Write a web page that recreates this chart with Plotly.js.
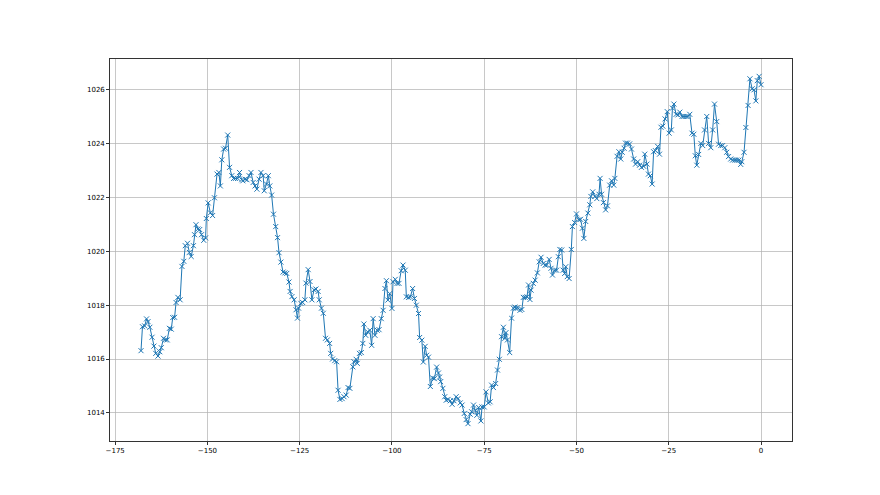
<!DOCTYPE html>
<html>
<head>
<meta charset="utf-8">
<script src="https://cdn.plot.ly/plotly-3.0.1.min.js"></script>
<style>html,body{margin:0;padding:0;background:#fff;}#chart{width:880px;height:495px;}</style>
</head>
<body>
<div id="chart"></div>
<script>
const hours = [
-168.0,-167.6,-167.0,-166.5,-166.1,-165.6,-165.0,-164.5,-164.0,-163.4,
-162.9,-162.5,-161.9,-161.4,-160.9,-160.3,-159.8,-159.4,-158.9,-158.5,
-158.0,-157.4,-156.9,-156.4,-156.0,-155.4,-154.9,-154.4,-153.8,-153.5,
-153.1,-152.6,-152.1,-151.6,-151.0,-150.5,-150.3,-149.8,-149.2,-148.6,
-148.1,
-147.4,-146.9,-146.5,-146.1,-145.6,-145.1,-144.5,-144.0,-143.4,-142.9,-142.4,-141.8,-141.3,-140.7,-140.4,-139.8,-139.3,-138.7,-138.2,-137.6,-137.1,-136.6,-136.0,-135.5,-134.9,-134.6,-134.0,-133.5,-133.1,-132.6,-132.1,-131.5,-131.0,-130.6,-130.1,-129.5,-129.0,-128.5,-127.9,
-127.6,-127.1,-126.5,-126.0,-125.6,-125.3,-124.7,-124.2,-123.6,-123.3,-122.7,-122.2,-121.7,-121.1,-120.6,-120.0,-119.7,-119.1,-118.6,-118.0,-117.5,-116.9,-116.6,-116.1,-115.5,-115.0,-114.6,-114.1,-113.5,-113.0,-112.4,-111.9,-111.4,-110.6,-110.3,-109.7,-109.4,-108.8,-108.3,-107.9,-107.6,
-107.1,-106.6,-106.0,-105.5,-105.1,-104.6,-104.0,-103.5,-102.9,-102.4,-101.9,-101.5,-101.1,-100.6,-100.0,-99.7,-99.1,-98.6,-98.1,-97.5,-97.0,-96.4,-96.1,-95.5,-95.0,-94.4,-93.9,-93.4,-92.8,-92.5,-91.9,-91.5,-91.0,-90.6,-90.1,-89.6,-89.0,-88.5,-87.9,-87.4,-87.1,
-86.8,-86.2,-85.7,-85.3,-84.8,-84.2,-83.7,-83.2,-82.6,-82.1,-81.5,-81.0,-80.4,-79.9,-79.4,-78.8,-78.4,-77.9,-77.4,-77.0,-76.5,-75.9,-75.6,-75.0,-74.5,-73.9,-73.4,-73.0,-72.5,-71.9,-71.4,-70.9,-70.3,-69.8,-69.4,-69.1,-68.7,-68.1,-67.6,-67.1,-66.7,
-66.4,-65.9,-65.3,-64.8,-64.4,-63.9,-63.4,-63.0,-62.6,-62.3,-61.7,-61.2,-60.6,-60.1,-59.6,-59.0,-58.5,-58.1,-57.4,-56.9,-56.5,-55.9,-55.4,-54.9,-54.5,-54.0,-53.6,-53.2,-52.9,-52.5,-52.0,-51.4,-51.1,-50.5,-50.0,-49.4,-48.9,-48.4,-48.0,-47.5,-46.9,-46.4,
-46.1,-45.6,-45.0,-44.5,-43.9,-43.6,-43.2,-42.7,-42.1,-41.6,-41.0,-40.5,-39.9,-39.6,-39.0,-38.5,-38.0,-37.6,-37.1,-36.7,-36.2,-35.6,-35.1,-34.5,-34.0,-33.4,-32.9,-32.4,-31.8,-31.5,-30.9,-30.5,-30.0,-29.5,-29.1,-28.6,-28.0,-27.5,-27.1,-26.6,-26.0,
-25.4,-24.9,-24.3,-24.0,-23.6,-23.0,-22.5,-22.0,-21.4,-20.9,-20.3,-19.8,-19.3,-18.7,-18.2,-17.8,-17.4,-16.9,-16.3,-15.8,-15.3,-14.7,-14.2,-13.6,-13.1,-12.6,-12.0,-11.5,-10.9,-10.4,-9.8,-9.3,-8.8,-8.2,-7.7,-7.1,-6.6,-6.0,-5.5,-5.2,-4.6,-4.1,-3.5,-3.0,-2.4,-1.9,-1.4,-1.0,-0.5,0.0
];
const pressure = [
1016.31,1017.20,1017.23,1017.49,1017.39,1017.18,1016.81,1016.48,1016.21,1016.11,
1016.27,1016.42,1016.77,1016.71,1016.71,1017.14,1017.11,1017.54,1017.55,1018.10,
1018.29,1018.20,1019.44,1019.63,1020.21,1020.30,1019.96,1019.81,1020.21,1020.62,
1020.99,1020.83,1020.81,1020.62,1020.41,1020.50,1021.22,1021.80,1021.43,1021.33,
1021.99,
1022.87,1022.93,1022.43,1023.40,1023.80,1023.83,1024.32,1023.12,1022.81,1022.71,1022.71,1022.71,1022.93,1022.66,1022.62,1022.68,1022.66,1022.81,1022.93,1022.56,1022.43,1022.31,1022.68,1022.93,1022.81,1022.25,1022.50,1022.81,1022.43,1022.09,1021.38,1020.92,1020.51,1019.95,1019.60,1019.23,1019.20,1019.18,1018.86,
1018.51,1018.32,1018.20,1017.83,1017.52,1017.89,1018.07,1018.10,1018.20,1018.82,1019.32,1018.88,1018.20,1018.57,1018.60,1018.51,1018.20,1017.89,1017.70,1016.77,1016.71,1016.58,1016.21,1016.00,1015.94,1015.90,1014.84,1014.50,1014.53,1014.60,1014.66,1014.94,1014.91,1015.71,1015.90,1015.99,1015.84,1016.21,1016.24,1016.58,1017.30,
1016.88,1017.01,1017.07,1016.51,1017.50,1016.88,1017.07,1017.09,1017.50,1017.81,1018.62,1018.91,1018.19,1018.43,1017.88,1018.87,1018.96,1018.81,1018.81,1019.28,1019.49,1019.30,1018.31,1018.29,1018.31,1018.62,1018.25,1018.00,1017.69,1016.80,1016.70,1015.89,1016.47,1016.14,1016.07,1014.98,1015.30,1015.27,1015.70,1015.48,1015.33,
1015.16,1014.91,1014.60,1014.47,1014.50,1014.45,1014.32,1014.45,1014.60,1014.53,1014.37,1014.29,1013.98,1013.75,1013.60,1013.95,1014.04,1014.29,1014.10,1013.91,1014.20,1013.70,1014.22,1014.22,1014.78,1014.37,1014.41,1015.03,1014.94,1015.09,1015.59,1015.99,1016.83,1017.18,1016.77,1016.98,1016.71,1016.24,1017.52,1017.89,1017.93,
1017.88,1017.91,1017.81,1017.84,1018.29,1018.29,1018.31,1018.75,1018.21,1018.56,1018.81,1018.93,1019.20,1019.61,1019.78,1019.55,1019.49,1019.49,1019.70,1019.37,1019.12,1019.30,1019.30,1019.80,1020.07,1020.05,1019.30,1019.18,1019.43,1019.06,1018.99,1020.07,1020.92,1021.07,1021.39,1021.17,1021.19,1020.86,1020.48,1021.11,1021.42,1021.73,
1022.04,1022.21,1022.04,1021.96,1022.12,1022.71,1022.12,1021.81,1021.54,1021.69,1022.46,1022.62,1022.46,1022.71,1023.53,1023.70,1023.43,1023.68,1023.83,1024.02,1024.02,1023.99,1023.80,1023.43,1023.24,1023.33,1023.20,1023.12,1023.16,1023.61,1023.24,1022.87,1022.81,1022.50,1023.70,1023.74,1023.90,1023.61,1024.61,1024.65,1024.92,
1025.19,1024.39,1024.51,1025.32,1025.47,1025.09,1025.07,1025.17,1025.01,1025.01,1025.01,1025.01,1025.09,1024.39,1024.35,1023.55,1023.20,1023.60,1024.01,1023.93,1024.51,1025.01,1024.01,1023.85,1024.51,1025.47,1024.82,1023.98,1023.93,1023.93,1023.85,1023.68,1023.52,1023.43,1023.39,1023.39,1023.39,1023.39,1023.23,1023.33,1023.68,1024.60,1025.42,1026.41,1026.04,1026.00,1025.59,1026.34,1026.50,1026.19
];
const xTicks = [-175, -150, -125, -100, -75, -50, -25, 0];
const yTicks = [1014, 1016, 1018, 1020, 1022, 1024, 1026];

function padded(arr) {
  const lo = Math.min(...arr), hi = Math.max(...arr);
  const p = (hi - lo) * 0.05;
  return [lo - p, hi + p];
}

const trace = {
  x: hours, y: pressure, type: 'scatter', mode: 'lines+markers',
  line: {color: '#1f77b4', width: 1},
  marker: {symbol: 'x-thin', size: 5, color: '#1f77b4', line: {color: '#1f77b4', width: 1}},
  hoverinfo: 'x+y'
};

const axisCommon = {
  showgrid: true, gridcolor: '#b0b0b0', gridwidth: 0.7,
  zeroline: false, showline: true, linecolor: '#000', linewidth: 0.8, mirror: true,
  ticks: 'outside', ticklen: 3, tickwidth: 0.8, tickcolor: '#000',
  tickfont: {family: 'DejaVu Sans', size: 7, color: '#000'}
};

const layout = {
  width: 880, height: 495,
  margin: {l: 110, r: 88, t: 59, b: 54},
  paper_bgcolor: '#fff', plot_bgcolor: '#fff',
  showlegend: false,
  xaxis: Object.assign({}, axisCommon, {range: padded(hours), tickmode: 'array', tickvals: xTicks, ticktext: xTicks.map(v => v < 0 ? '\u2212' + Math.abs(v) : String(v))}),
  yaxis: Object.assign({}, axisCommon, {range: padded(pressure), tickmode: 'array', tickvals: yTicks, ticktext: yTicks.map(String)})
};

Plotly.newPlot('chart', [trace], layout, {displayModeBar: false, staticPlot: true});
</script>
</body>
</html>
